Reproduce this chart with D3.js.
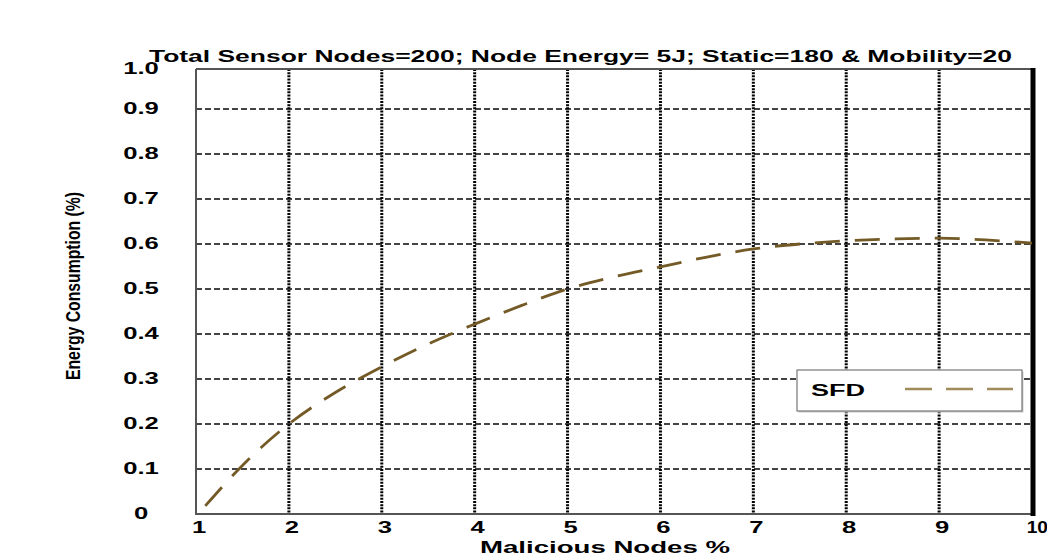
<!DOCTYPE html>
<html>
<head>
<meta charset="utf-8">
<script src="https://cdn.jsdelivr.net/npm/d3@7"></script>
<style>
  html, body { margin: 0; padding: 0; background: #fff; }
  svg { display: block; font-family: "Liberation Sans", Arial, sans-serif; font-weight: bold; }
</style>
</head>
<body>
<div id="chart"></div>
<script>
'use strict';

// data
var titleText = 'Total Sensor Nodes=200; Node Energy= 5J; Static=180 & Mobility=20';
var xLabel = 'Malicious Nodes %';
var yLabel = 'Energy Consumption (%)';
var seriesName = 'SFD';

var xTicks = [1, 2, 3, 4, 5, 6, 7, 8, 9, 10];
var yTicks = [0, 0.1, 0.2, 0.3, 0.4, 0.5, 0.6, 0.7, 0.8, 0.9, 1.0];
var yTickLabels = ['0', '0.1', '0.2', '0.3', '0.4', '0.5', '0.6', '0.7', '0.8', '0.9', '1.0'];

var sfdX = [1.1, 1.5, 2, 2.5, 3, 3.5, 4, 4.5, 5, 5.5, 6, 6.5, 7, 7.5, 8, 8.5, 9, 9.5, 10];
var sfdY = [0.018, 0.108, 0.2, 0.27, 0.327, 0.378, 0.422, 0.463, 0.5, 0.527, 0.549, 0.571,
            0.589, 0.6, 0.607, 0.611, 0.613, 0.609, 0.602];

var W = 1047, H = 556,
    left = 196, right = 1032, bottom = 514,
    yTop = 0.989,          // frame top sits a hair under 1.0
    stretch = 1.6;         // the original text is stretched horizontally

var x = d3.scaleLinear().domain([1, 10]).range([left, right]);
var y = d3.scaleLinear().domain([0, 1]).range([bottom, 64]);

var svg = d3.select('#chart').append('svg')
  .attr('width', W)
  .attr('height', H);

svg.append('rect').attr('width', W).attr('height', H).attr('fill', '#fff');

// horizontal dashed grid
svg.append('g')
  .selectAll('line')
  .data(yTicks.filter(function (d) { return d > 0 && d < 1; }))
  .enter().append('line')
    .attr('x1', left)
    .attr('x2', right - 2)
    .attr('y1', function (d) { return y(d); })
    .attr('y2', function (d) { return y(d); })
    .attr('stroke', '#444')
    .attr('stroke-width', 2)
    .attr('stroke-dasharray', '6,3');

// vertical dotted grid
svg.append('g')
  .selectAll('line')
  .data(xTicks.filter(function (d) { return d > 1 && d < 10; }))
  .enter().append('line')
    .attr('x1', function (d) { return x(d); })
    .attr('x2', function (d) { return x(d); })
    .attr('y1', y(yTop))
    .attr('y2', bottom)
    .attr('stroke', '#000')
    .attr('stroke-width', 3)
    .attr('stroke-dasharray', '2,1.2');

// frame
svg.append('path')
  .attr('d', 'M' + left + ',' + y(yTop) + 'H' + right + 'M' + left + ',' + y(yTop) + 'V' + bottom + 'H' + right)
  .attr('fill', 'none')
  .attr('stroke', '#555')
  .attr('stroke-width', 2);

svg.append('line')
  .attr('x1', right + 1).attr('x2', right + 1)
  .attr('y1', y(yTop) - 1).attr('y2', bottom + 2)
  .attr('stroke', '#000')
  .attr('stroke-width', 5);

// curve
var line = d3.line()
  .x(function (d, i) { return x(sfdX[i]); })
  .y(function (d) { return y(d); })
  .curve(d3.curveMonotoneX);

svg.append('path')
  .datum(sfdY)
  .attr('d', line)
  .attr('fill', 'none')
  .attr('stroke', '#735a26')
  .attr('stroke-width', 2.8)
  .attr('stroke-dasharray', '25,15');

// tick labels
svg.append('g')
  .selectAll('text')
  .data(yTicks)
  .enter().append('text')
    .attr('text-anchor', 'middle')
    .attr('font-size', 16)
    .attr('transform', function (d) {
      return 'translate(141,' + (Math.max(y(d), y(yTop)) + 5) + ') scale(' + stretch + ',1)';
    })
    .text(function (d, i) { return yTickLabels[i]; });

svg.append('g')
  .selectAll('text')
  .data(xTicks)
  .enter().append('text')
    .attr('text-anchor', function (d) { return d === 10 ? 'end' : 'middle'; })
    .attr('font-size', 16)
    .attr('transform', function (d) {
      var px = d === 10 ? W + 1 : x(d) + 3;
      return 'translate(' + px + ',533) scale(' + (d === 10 ? 1.2 : stretch) + ',1)';
    })
    .text(function (d) { return d; });

// title and axis labels
svg.append('text')
  .attr('x', 149)
  .attr('y', 62)
  .attr('font-size', 16)
  .attr('textLength', 863)
  .attr('lengthAdjust', 'spacingAndGlyphs')
  .text(titleText);

svg.append('text')
  .attr('x', 480)
  .attr('y', 553)
  .attr('font-size', 16)
  .attr('textLength', 250)
  .attr('lengthAdjust', 'spacingAndGlyphs')
  .text(xLabel);

svg.append('text')
  .attr('transform', 'translate(80,286) rotate(-90) scale(1,1.4)')
  .attr('text-anchor', 'middle')
  .attr('font-size', 14)
  .attr('textLength', 188)
  .attr('lengthAdjust', 'spacingAndGlyphs')
  .text(yLabel);

// legend
var legend = svg.append('g').attr('transform', 'translate(797,370)');

legend.append('rect')
  .attr('x', 1.5).attr('y', 1.5)
  .attr('width', 225).attr('height', 41)
  .attr('fill', '#ccc');

legend.append('rect')
  .attr('width', 225).attr('height', 41)
  .attr('fill', '#fff')
  .attr('stroke', '#777')
  .attr('stroke-width', 1.2);

legend.append('text')
  .attr('x', 14)
  .attr('y', 26)
  .attr('font-size', 16)
  .attr('textLength', 54)
  .attr('lengthAdjust', 'spacingAndGlyphs')
  .text(seriesName);

legend.append('line')
  .attr('x1', 108).attr('x2', 216)
  .attr('y1', 19).attr('y2', 19)
  .attr('stroke', '#a08c5a')
  .attr('stroke-width', 2.5)
  .attr('stroke-dasharray', '27,14');
</script>
</body>
</html>
